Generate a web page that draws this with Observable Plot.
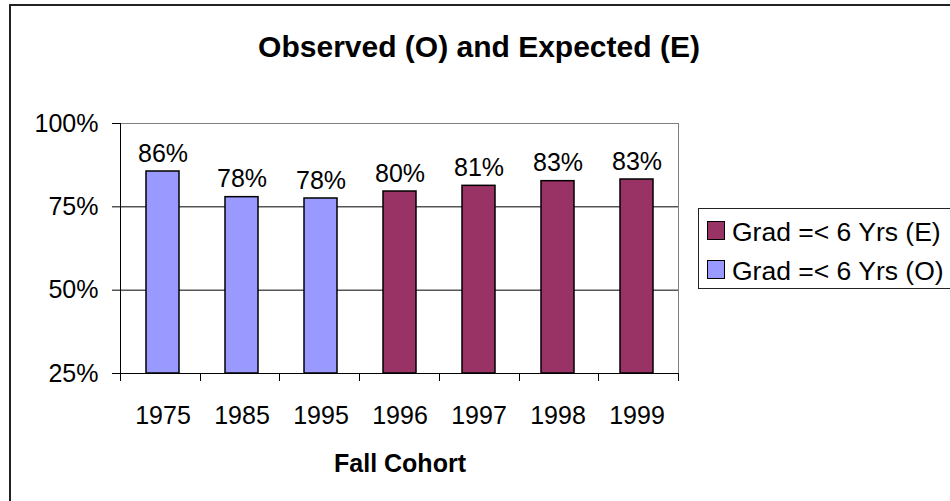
<!DOCTYPE html>
<html>
<head>
<meta charset="utf-8">
<script src="https://cdn.jsdelivr.net/npm/d3@7"></script>
<script src="https://cdn.jsdelivr.net/npm/@observablehq/plot@0.6"></script>
<style>
  html, body { margin: 0; padding: 0; background: #fff; }
  #chart { position: relative; width: 950px; height: 501px; overflow: hidden; background: #fff;
           font-family: Arial, "Liberation Sans", sans-serif; color: #000; }
  #border { position: absolute; left: 9px; top: 4px; width: 1010px; height: 560px;
            border: 2px solid #222; box-sizing: border-box; }
  #plotwrap { position: absolute; left: 0; top: 0; }
  .title { position: absolute; left: 0; width: 958px; top: 31.5px; text-align: center;
           font-weight: bold; font-size: 30px; line-height: 30px; white-space: nowrap; }
  .xlabel { position: absolute; left: 0; width: 800px; top: 450.5px; text-align: center;
            font-weight: bold; font-size: 25px; line-height: 25px; white-space: nowrap; }
  #legend { position: absolute; left: 698px; top: 208px; width: 300px; height: 81px;
            border: 1px solid #222; box-sizing: border-box; }
  .item { position: absolute; left: 8px; height: 25px; font-size: 26.5px; line-height: 25px; white-space: nowrap; }
  .sw { position: absolute; left: 0; top: 1px; width: 18px; height: 19px; border: 1.5px solid #000; box-sizing: border-box; }
  .lt { position: absolute; left: 25px; top: 0; }
</style>
</head>
<body>
<div id="chart">
  <div id="plotwrap"></div>
  <div id="border"></div>
  <div class="title" id="title"></div>
  <div class="xlabel" id="xlabel"></div>
  <div id="legend"></div>
</div>
<script>
// ---- data ----
const titleText = "Observed (O) and Expected (E)";
const xAxisLabel = "Fall Cohort";
const categories = ["1975", "1985", "1995", "1996", "1997", "1998", "1999"];
const values = [85.6, 77.9, 77.5, 79.6, 81.3, 82.7, 83.2];
const seriesOf = ["O", "O", "O", "E", "E", "E", "E"];
const valueLabels = ["86%", "78%", "78%", "80%", "81%", "83%", "83%"];
const yTicks = [25, 50, 75, 100];
const seriesKeys = ["E", "O"];
const seriesNames = ["Grad =< 6 Yrs (E)", "Grad =< 6 Yrs (O)"];

// ---- styling ----
const seriesColors = ["#993366", "#9999FF"];

const data = categories.map((c, i) => ({cohort: c, value: values[i], series: seriesOf[i], label: valueLabels[i]}));

document.getElementById("title").textContent = titleText;
document.getElementById("xlabel").textContent = xAxisLabel;

// category boundary ticks and left axis line (Excel-style)
function boundaryTicks(index, scales, vals, dims) {
  const g = d3.create("svg:g").attr("stroke", "#000").attr("stroke-width", 1);
  const x0 = dims.marginLeft, x1 = dims.width - dims.marginRight;
  const yb = dims.height - dims.marginBottom, yt = dims.marginTop;
  const n = categories.length, bw = (x1 - x0) / n;
  for (let k = 0; k <= n; k++) {
    const xx = Math.round(x0 + k * bw) + 0.5;
    g.append("line").attr("x1", xx).attr("x2", xx).attr("y1", yb).attr("y2", yb + 8);
  }
  g.append("line").attr("x1", x0 + 0.5).attr("x2", x0 + 0.5).attr("y1", yt).attr("y2", yb + 0.5);
  return g.node();
}

const chart = Plot.plot({
  width: 950,
  height: 501,
  marginLeft: 120,
  marginRight: 272,
  marginTop: 123,
  marginBottom: 128,
  style: {background: "transparent", fontFamily: "Arial, 'Liberation Sans', sans-serif", fontSize: "25px", color: "#000", overflow: "visible"},
  x: {domain: categories, padding: 0, label: null},
  y: {domain: [25, 100], label: null},
  color: {domain: seriesKeys, range: seriesColors},
  marks: [
    Plot.frame({stroke: "#808080", strokeWidth: 1}),
    Plot.ruleY([50, 75], {stroke: "#000", strokeWidth: 1}),
    Plot.barY(data, {x: "cohort", y1: 25, y2: "value", fill: "series", stroke: "#000", strokeWidth: 1.5, insetLeft: 23, insetRight: 23}),
    Plot.text(data, {x: "cohort", y: "value", text: "label", dy: -10, lineAnchor: "bottom", fontSize: 25, fill: "#000"}),
    Plot.axisY({ticks: yTicks, tickFormat: d => d + "%", tickSize: 8, tickPadding: 14, fontSize: 25, label: null, stroke: "#000"}),
    Plot.axisX({tickSize: 0, tickPadding: 33, fontSize: 25, label: null}),
    Plot.ruleY([25], {stroke: "#000", strokeWidth: 1}),
    boundaryTicks
  ]
});
document.getElementById("plotwrap").appendChild(chart);

// legend
const legend = document.getElementById("legend");
const rowTops = [11, 50];
seriesKeys.forEach((k, i) => {
  const item = document.createElement("div");
  item.className = "item";
  item.style.top = rowTops[i] + "px";
  const sw = document.createElement("div");
  sw.className = "sw";
  sw.style.background = seriesColors[i];
  const lt = document.createElement("div");
  lt.className = "lt";
  lt.textContent = seriesNames[i];
  item.appendChild(sw); item.appendChild(lt);
  legend.appendChild(item);
});
</script>
</body>
</html>
